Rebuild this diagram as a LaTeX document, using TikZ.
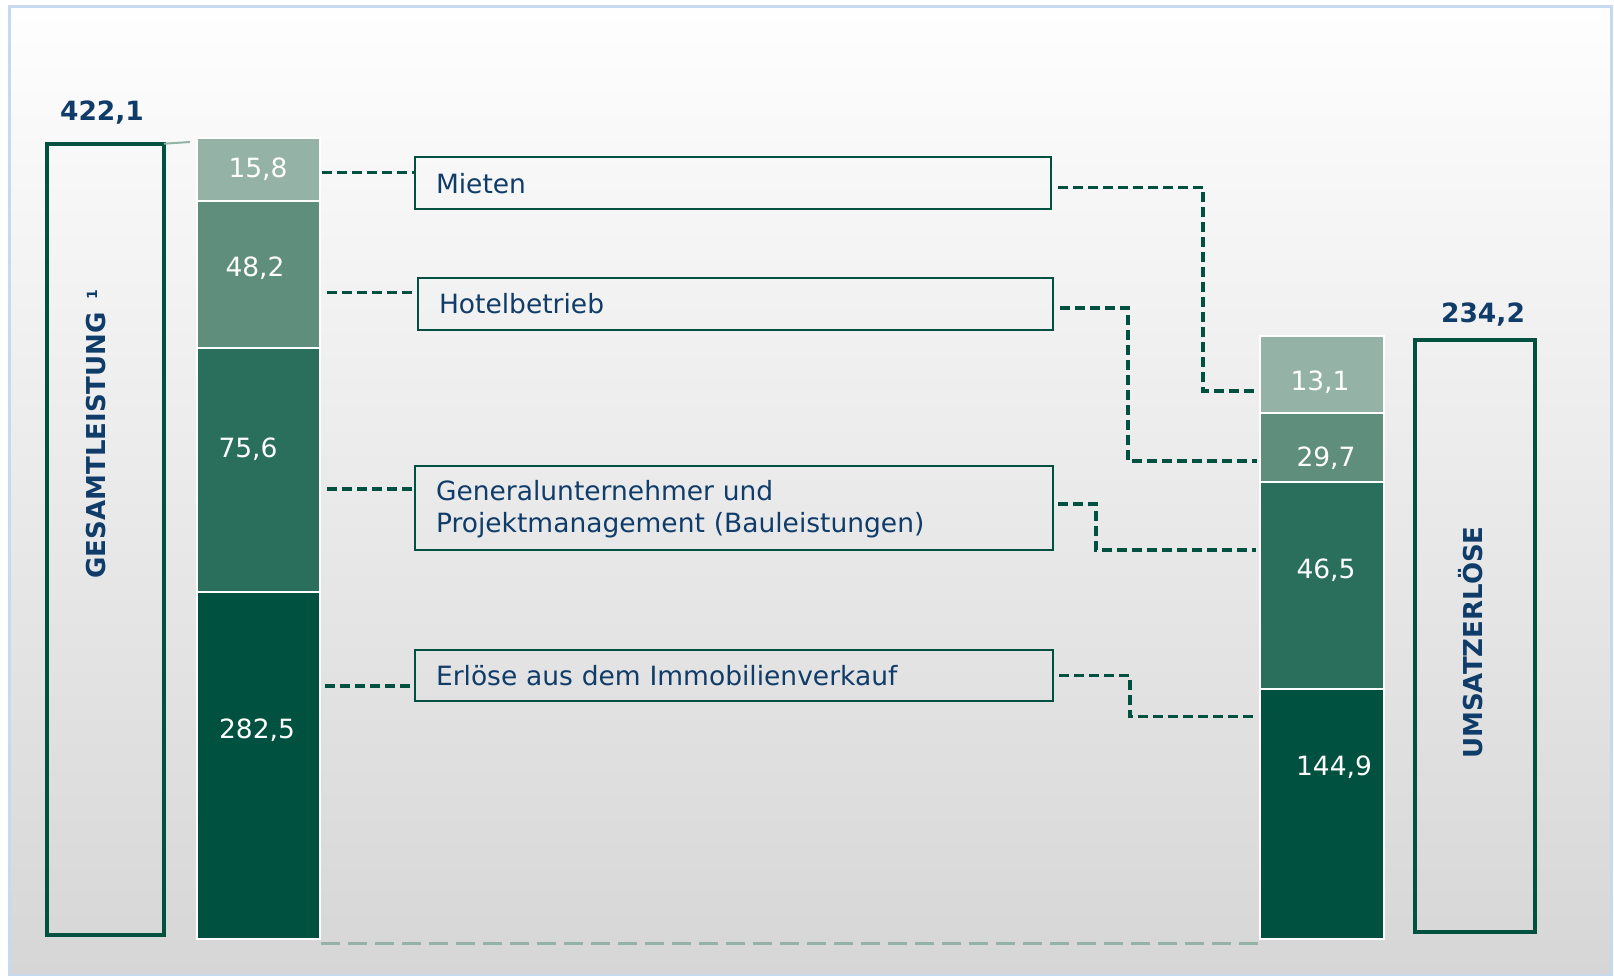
\documentclass[tikz,border=0pt]{standalone}
\usepackage{fontspec}
\setmainfont{DejaVu Sans}
\usetikzlibrary{calc}
\definecolor{dg}{HTML}{00513F}
\definecolor{gthree}{HTML}{2A6E5C}
\definecolor{gtwo}{HTML}{5F8E7C}
\definecolor{gone}{HTML}{94B2A6}
\definecolor{txtblue}{HTML}{103C6A}
\definecolor{framec}{HTML}{C6D9F0}
\definecolor{bgtop}{HTML}{FEFEFE}
\definecolor{bgbot}{HTML}{D6D6D6}
\begin{document}
\begin{tikzpicture}[x=1pt,y=-1pt,
  barseg/.style={draw=white, line width=2pt, inner sep=0pt, outer sep=0pt, anchor=north west},
  valtxt/.style={text=white, font=\fontsize{26.5}{30}\selectfont, anchor=base, inner sep=0pt},
  totaltxt/.style={text=txtblue, font=\fontsize{26.5}{30}\selectfont\bfseries, anchor=base, inner sep=0pt},
  obox/.style={draw=dg, line width=4pt, inner sep=0pt, outer sep=0pt, anchor=north west},
  vlabel/.style={text=txtblue, font=\fontsize{26}{30}\selectfont\bfseries, rotate=90, anchor=base, inner sep=0pt},
  lbox/.style={draw=dg, line width=2pt, inner xsep=21pt, inner ysep=0pt, outer sep=0pt, anchor=north west, align=left, text=txtblue, font=\fontsize{26.5}{32}\selectfont},
  dashconn/.style={draw=dg, line width=3.3pt, dash pattern=on 10pt off 5pt},
  lightdash/.style={draw=gone, line width=3pt, dash pattern=on 19pt off 8pt},
]
\useasboundingbox (0,0) rectangle (1614,976);
\fill[white] (0,0) rectangle (1614,976);
\shade[top color=bgtop, bottom color=bgbot] (9.5,6.5) rectangle (1611.5,975);
\draw[framec, line width=2.5pt] (9.5,6.5) rectangle (1611.5,975);

% outline total boxes
\node[obox, minimum width=117pt, minimum height=791pt] (gbox) at (47,143.7) {};
\node[obox, minimum width=120pt, minimum height=592pt] (ubox) at (1415,340) {};
\node[vlabel] (gtxt) at (105,434) {GESAMTLEISTUNG\hspace{13pt}\raisebox{8pt}{\fontsize{14}{14}\selectfont 1}};
\node[vlabel] (utxt) at (1482,642.5) {UMSATZERLÖSE};
\node[totaltxt] (gtot) at (102,121) {422,1};
\node[totaltxt] (utot) at (1483,323) {234,2};

% left stacked bar
\node[barseg, fill=gone, minimum width=123pt, minimum height=63.5pt] (l1) at (197,138) {};
\node[barseg, fill=gtwo, minimum width=123pt, minimum height=146.5pt] (l2) at (197,201.5) {};
\node[barseg, fill=gthree, minimum width=123pt, minimum height=244pt] (l3) at (197,348) {};
\node[barseg, fill=dg, minimum width=123pt, minimum height=347pt] (l4) at (197,592) {};
\node[valtxt] (l1t) at (258,178) {15,8};
\node[valtxt] (l2t) at (255,277) {48,2};
\node[valtxt] (l3t) at (248,457) {75,6};
\node[valtxt] (l4t) at (257,738) {282,5};

% right stacked bar
\node[barseg, fill=gone, minimum width=124pt, minimum height=77pt] (r1) at (1260,336) {};
\node[barseg, fill=gtwo, minimum width=124pt, minimum height=69pt] (r2) at (1260,413) {};
\node[barseg, fill=gthree, minimum width=124pt, minimum height=207pt] (r3) at (1260,482) {};
\node[barseg, fill=dg, minimum width=124pt, minimum height=250pt] (r4) at (1260,689) {};
\node[valtxt] (r1t) at (1320,390) {13,1};
\node[valtxt] (r2t) at (1326,466) {29,7};
\node[valtxt] (r3t) at (1326,578) {46,5};
\node[valtxt] (r4t) at (1334,775) {144,9};

% series lines
\draw[gone, line width=2pt] (gbox.north east) -- ($(l1.north west)+(-7,4)$) coordinate (topend);
\draw[lightdash] ($(l4.south east)+(1,4)$) coordinate (bstart) -- (bstart -| r4.south west);

% label boxes
\node[lbox, text width=594pt, minimum height=52.5pt] (mieten) at (415,157) {Mieten};
\node[lbox, text width=593pt, minimum height=52pt] (hotel) at (418,278) {Hotelbetrieb};
\node[lbox, text width=596pt, minimum height=84pt] (general) at (415,466) {\rule{0pt}{23pt}Generalunternehmer und\\Projektmanagement (Bauleistungen)};
\node[lbox, text width=596pt, minimum height=51pt] (erloese) at (415,650) {Erlöse aus dem Immobilienverkauf};

% left connectors
\draw[dashconn] ($(l1.east)+(2,3)$) coordinate (s1) -- (s1 -| mieten.west);
\draw[dashconn] ($(l2.east)+(7,18)$) coordinate (s2) -- (s2 -| hotel.west);
\draw[dashconn] ($(l3.east)+(7,19)$) coordinate (s3) -- (s3 -| general.west);
\draw[dashconn] ($(l4.east)+(5,-79.5)$) coordinate (s4) -- (s4 -| erloese.west);

% right connectors
\draw[dashconn] ($(mieten.east)+(7,4)$) -| ($(r1.west)+(-57,16.5)$) -- ($(r1.west)+(-6,16.5)$);
\draw[dashconn] ($(hotel.east)+(7,4)$) -| ($(r2.west)+(-132,13.5)$) -- ($(r2.west)+(-3,13.5)$);
\draw[dashconn] ($(general.east)+(5,-4)$) -| ($(r3.west)+(-164,-35.5)$) -- ($(r3.west)+(-4,-35.5)$);
\draw[dashconn] ($(erloese.east)+(6,0)$) -| ($(r4.west)+(-130,-97.3)$) -- ($(r4.west)+(-3,-97.3)$);
\end{tikzpicture}
\end{document}
